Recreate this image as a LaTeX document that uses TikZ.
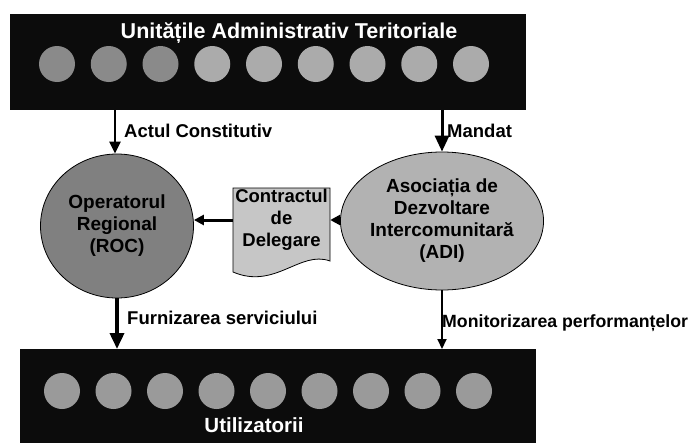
\documentclass[tikz,border=0pt]{standalone}
\usepackage{fontspec}
\setmainfont{Liberation Sans}
\usetikzlibrary{shapes.geometric,arrows.meta}
\definecolor{barblack}{HTML}{0C0C0C}
\definecolor{dotdark}{HTML}{8A8A8A}
\definecolor{dotlight}{HTML}{ABABAB}
\definecolor{dotmid}{HTML}{9A9A9A}
\definecolor{rocfill}{HTML}{808080}
\definecolor{adifill}{HTML}{B2B2B2}
\definecolor{docfill}{HTML}{C6C6C6}
\tikzset{
  bar/.style={fill=barblack, draw=none, inner sep=0pt},
  dot/.style={circle, draw=none, minimum size=36pt, inner sep=0pt},
  bigell/.style={ellipse, draw=black, line width=0.8pt, inner sep=0pt, align=center,
    font=\bfseries\fontsize{19}{22}\selectfont},
  lbl/.style={font=\bfseries\fontsize{18.5}{21}\selectfont, anchor=west, inner sep=0pt},
  whitetitle/.style={font=\bfseries\fontsize{21.5}{24}\selectfont, text=white, inner sep=0pt},
  thickarr/.style={line width=3.6pt, -{Triangle[length=16pt,width=14pt]}},
  medarr/.style={line width=3pt, -{Triangle[length=10pt,width=10pt]}},
  thinarr/.style={line width=2pt, -{Triangle[length=10pt,width=9pt]}},
}
\begin{document}
\begin{tikzpicture}[x=1pt,y=-1pt]
\useasboundingbox (0,0) rectangle (696,442);
% top bar
\node[bar, minimum width=516pt, minimum height=96pt] (uat) at (268,62) {};
\node[whitetitle] (uattitle) at (289,33) {Unitățile Administrativ Teritoriale};
\foreach \i in {0,1,2} \node[dot, fill=dotdark] (t\i) at ({57+51.75*\i},64) {};
\foreach \i in {3,...,8} \node[dot, fill=dotlight] (t\i) at ({57+51.75*\i},64) {};
% bottom bar
\node[bar, minimum width=516pt, minimum height=94pt, anchor=north west] (ut) at (20,349) {};
\node[whitetitle, font=\bfseries\fontsize{20.5}{24}\selectfont] (uttitle) at (254,425) {Utilizatorii};
\foreach \i in {0,...,8} \node[dot, fill=dotmid] (b\i) at ({62+51.5*\i},391) {};
% ROC
\node[bigell, fill=rocfill, minimum width=153pt, minimum height=144pt] (roc) at (117,226)
  {Operatorul\\Regional\\(ROC)};
% ADI
\node[bigell, fill=adifill, minimum width=155pt, minimum height=138pt] (adi) at (442,221)
  {Asociația de\\Dezvoltare\\Intercomunitară\\(ADI)};
% document
\draw[line width=0.8pt, fill=docfill] (233,188) -- (330,188) -- (330,261)
  .. controls (300,250) and (275,290) .. (233,272) -- cycle;
\node[align=center, font=\bfseries\fontsize{18.5}{22}\selectfont, inner sep=0pt,
  minimum width=97pt, minimum height=60pt] (doc) at (281.5,220) {Contractul\\de\\Delegare};
% arrows
\draw[thinarr, line width=2.4pt, -{Triangle[length=12pt,width=11pt]}] (uat.south -| 115,0) -- (roc.north -| 115,0);
\draw[thickarr, line width=3pt] (uat.south -| adi) -- (adi.north);
\draw[medarr] (adi.west |- doc) -- (doc.east);
\draw[medarr] (doc.west) -- (doc.west -| roc.east);
\draw[thickarr] (roc.south) -- (roc.south |- ut.north);
\draw[thinarr] (adi.south) -- (adi.south |- ut.north);
% labels
\node[lbl] (l1) at (124,131) {Actul Constitutiv};
\node[lbl] (l2) at (447,131) {Mandat};
\node[lbl] (l3) at (127,318) {Furnizarea serviciului};
\node[lbl, font=\bfseries\fontsize{17.7}{21}\selectfont] (l4) at (442,323) {Monitorizarea performanțelor};
\end{tikzpicture}
\end{document}
